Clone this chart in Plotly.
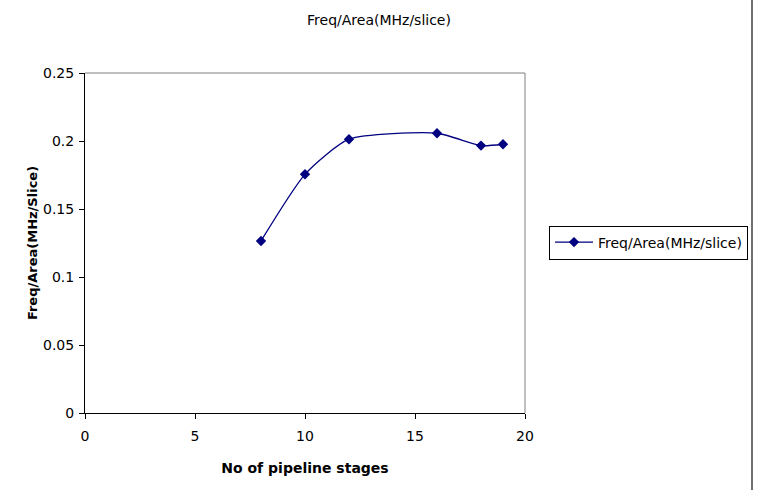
import plotly.graph_objects as go

stages = [8, 10, 12, 16, 18, 19]
freq_area = [0.1265, 0.1755, 0.2013, 0.2057, 0.1966, 0.1976]
series_name = "Freq/Area(MHz/slice)"
chart_title = "Freq/Area(MHz/slice)"
x_title = "No of pipeline stages"
y_title = "Freq/Area(MHz/Slice)"
x_ticks = [0, 5, 10, 15, 20]
y_ticks = [0, 0.05, 0.1, 0.15, 0.2, 0.25]
y_tick_text = ["0", "0.05", "0.1", "0.15", "0.2", "0.25"]

L, R, T, B = 85, 235, 73, 77
W, H = 760, 490
pw, ph = W - L - R, H - T - B

fig = go.Figure()
fig.add_trace(go.Scatter(
    x=stages, y=freq_area, name=series_name, mode="lines+markers",
    line=dict(color="#000080", width=1.3, shape="spline", smoothing=0.6),
    marker=dict(symbol="diamond", size=8, color="#000080"),
))

font = "DejaVu Sans, sans-serif"
fig.update_layout(
    width=W, height=H,
    margin=dict(l=L, r=R, t=T, b=B),
    paper_bgcolor="white", plot_bgcolor="white",
    font=dict(family=font, size=14, color="black"),
    title=dict(text=chart_title, x=379 / W, xanchor="center",
               y=1 - 20 / H, yanchor="middle", font=dict(size=14)),
    showlegend=True,
    legend=dict(x=(549 - L) / pw, y=(H - B - 242.5) / ph, xanchor="left", yanchor="middle",
                bordercolor="black", borderwidth=1, bgcolor="white",
                font=dict(size=14), itemwidth=38, tracegroupgap=0),
    xaxis=dict(range=[0, 20], tickvals=x_ticks, ticktext=[str(v) for v in x_ticks],
               showgrid=False, zeroline=False, showline=True, linecolor="black", linewidth=1,
               ticks="outside", ticklen=5, tickcolor="black", ticklabelstandoff=5,
               tickfont=dict(size=14),
               title=dict(text="<b>" + x_title + "</b>", font=dict(size=14), standoff=20)),
    yaxis=dict(range=[0, 0.25], tickvals=y_ticks, ticktext=y_tick_text,
               showgrid=False, zeroline=False, showline=True, linecolor="black", linewidth=1,
               ticks="outside", ticklen=5, tickcolor="black", ticklabelstandoff=2,
               tickfont=dict(size=14),
               title=dict(text="<b>" + y_title + "</b>", font=dict(size=13), standoff=2)),
    shapes=[
        dict(type="line", xref="paper", yref="paper", x0=0, x1=1, y0=1, y1=1,
             line=dict(color="#808080", width=1)),
        dict(type="line", xref="paper", yref="paper", x0=1, x1=1, y0=0, y1=1,
             line=dict(color="#808080", width=1)),
        dict(type="line", xref="paper", yref="paper",
             x0=(752 - L) / pw, x1=(752 - L) / pw, y0=-B / ph, y1=1 + T / ph,
             line=dict(color="#404040", width=1.5)),
    ],
)

fig.write_html("out.html")
